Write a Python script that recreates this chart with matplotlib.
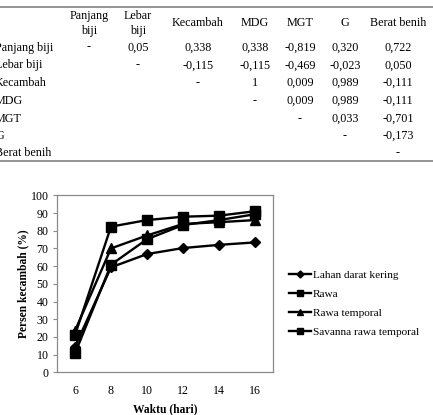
import matplotlib
matplotlib.use("Agg")
import matplotlib.pyplot as plt
from matplotlib.lines import Line2D

# ---------------- data ----------------
col_headers = ["Panjang\nbiji", "Lebar\nbiji", "Kecambah", "MDG", "MGT", "G", "Berat benih"]
row_labels = ["Panjang biji", "Lebar biji", "Kecambah", "MDG", "MGT", "G", "Berat benih"]
table_rows = [
    ["-", "0,05", "0,338", "0,338", "-0,819", "0,320", "0,722"],
    ["", "-", "-0,115", "-0,115", "-0,469", "-0,023", "0,050"],
    ["", "", "-", "1", "0,009", "0,989", "-0,111"],
    ["", "", "", "-", "0,009", "0,989", "-0,111"],
    ["", "", "", "", "-", "0,033", "-0,701"],
    ["", "", "", "", "", "-", "-0,173"],
    ["", "", "", "", "", "", "-"],
]

days = ["6", "8", "10", "12", "14", "16"]
series_names = ["Lahan darat kering", "Rawa", "Rawa temporal", "Savanna rawa temporal"]
lahan_darat_kering = [14.5, 59.3, 66.8, 70.2, 72.0, 73.4]
rawa = [21.0, 82.3, 86.0, 87.9, 88.5, 91.0]
rawa_temporal = [23.5, 70.0, 77.3, 83.8, 84.8, 86.0]
savanna_rawa_temporal = [10.7, 60.8, 75.2, 83.2, 86.0, 89.3]
yticks = list(range(0, 101, 10))

# ---------------- figure ----------------
W, H = 433, 415
fig = plt.figure(figsize=(W / 100, H / 100), dpi=100)
serif = ["Liberation Serif", "DejaVu Serif"]

def fx(px):
    return px / W

def fy(py):
    return 1 - py / H

# table lines
gray = "#8a8a8a"
fig.add_artist(Line2D([0, 1], [fy(7), fy(7)], color=gray, lw=1.3, transform=fig.transFigure))
fig.add_artist(Line2D([0, 1], [fy(161.5), fy(161.5)], color=gray, lw=1.3, transform=fig.transFigure))

col_x = [89, 138, 198, 255, 300, 345, 398]
row_y = [47.5, 65.3, 83.1, 100.9, 118.7, 136.2, 153.5]
tfs = 8.7
for cx, h in zip(col_x, col_headers):
    if "\n" in h:
        a, b = h.split("\n")
        fig.text(fx(cx), fy(16), a, ha="center", va="center", fontsize=tfs, family=serif)
        fig.text(fx(cx), fy(31), b, ha="center", va="center", fontsize=tfs, family=serif)
    else:
        fig.text(fx(cx), fy(23.5), h, ha="center", va="center", fontsize=tfs, family=serif)

for ry, lab, vals in zip(row_y, row_labels, table_rows):
    fig.text(fx(-5), fy(ry), lab, ha="left", va="center", fontsize=tfs, family=serif)
    for cx, v in zip(col_x, vals):
        if v:
            fig.text(fx(cx), fy(ry), v, ha="center", va="center", fontsize=tfs, family=serif)

# ---------------- chart ----------------
ax = fig.add_axes([fx(57), fy(372.3), fx(273) - fx(57), (372.3 - 195.3) / H])
x = list(range(len(days)))
styles = [("D", 5.5), ("s", 6.5), ("^", 6.5), ("s", 6.5)]
all_series = [lahan_darat_kering, rawa, rawa_temporal, savanna_rawa_temporal]
for name, vals, (m, ms) in zip(series_names, all_series, styles):
    ax.plot(x, vals, color="black", lw=1.7, marker=m, markersize=ms, label=name)

ax.set_xlim(-0.5, len(days) - 0.5)
ax.set_ylim(0, 100)
ax.set_xticks(x)
ax.set_xticklabels(days)
ax.set_yticks(yticks)
for t in ax.get_xticklabels() + ax.get_yticklabels():
    t.set_family(serif)
    t.set_fontsize(8.6)
ax.tick_params(axis="x", length=0, pad=9)
ax.tick_params(axis="y", length=3, width=0.8, color=gray, pad=3)
for s in ax.spines.values():
    s.set_color(gray)
    s.set_linewidth(0.9)

ax.set_xlabel("Waktu (hari)", fontsize=8.3, family=serif, fontweight="bold", labelpad=5)
ax.set_ylabel("Persen kecambah (%)", fontsize=8.3, family=serif, fontweight="bold", labelpad=1)

fig.legend(loc="upper left", bbox_to_anchor=(fx(289), fy(270)), frameon=False,
           prop={"family": serif, "size": 8.1}, handlelength=1.95, handletextpad=0.15,
           labelspacing=0.82, borderpad=0, borderaxespad=0, markerscale=0.65)

fig.savefig("out.png", dpi=100)
